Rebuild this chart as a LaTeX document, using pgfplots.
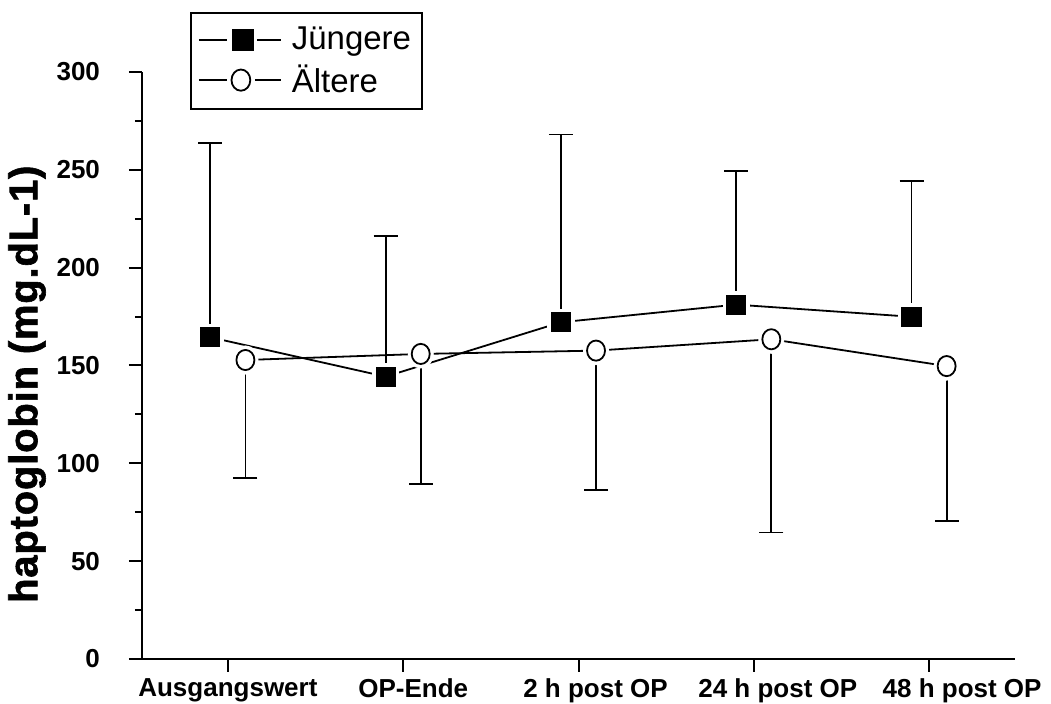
\documentclass[border=0pt]{standalone}
\usepackage{pgfplots}
\usepackage{pgfplotstable}
\pgfplotsset{compat=1.18}
\usepackage{fontspec}
\setmainfont{Liberation Sans}
\pgfplotstableread{
x y e
-0.1 164.4 99.5
0.9 144.3 71.9
1.9 172.1 95.9
2.9 181.1 68.5
3.9 174.9 69.2
}\young
\pgfplotstableread{
x y e
0.1 152.8 60.3
1.1 155.9 66.3
2.1 157.6 71.2
3.1 163.4 98.8
4.1 149.7 79.0
}\old
\begin{document}
\begin{tikzpicture}
\begin{axis}[
  name=ax, at={(0,0)}, anchor=south west,
  scale only axis, width=436.5pt, height=293.5pt,
  xmin=-0.49, xmax=4.49, ymin=0, ymax=300,
  axis x line=bottom, axis y line=left,
  axis line style={-, line width=1pt},
  tick align=outside, major tick length=6.5pt, minor tick length=3.5pt,
  tick style={black, line width=1pt},
  xtick={0,1,2,3,4},
  xticklabels={{Ausgangswert},{\hspace*{10pt}\raisebox{-2pt}{OP-Ende}},{\hspace*{17pt}2 h post OP},{\hspace*{24pt}24 h post OP},{\hspace*{33pt}48 h post OP}},
  ytick={0,50,...,300}, minor ytick={25,75,...,275},
  /pgf/number format/assume math mode=true,
  xticklabel style={font=\fontsize{13}{15}\selectfont\bfseries},
  yticklabel style={font=\fontsize{13}{15}\selectfont\bfseries, xshift=-11pt},
  ylabel={haptoglobin (mg.dL-1)},
  ylabel style={font=\fontsize{20}{24}\selectfont\bfseries\addfontfeature{FakeBold=1.5,LetterSpace=2}, at={(axis description cs:-0.1317,0.468)}, anchor=center},
  legend style={at={(0.055,1.102)}, anchor=north west, draw=black, line width=1pt,
    font=\fontsize{16.5}{19}\selectfont, inner xsep=3.5pt, inner ysep=5pt, row sep=2pt,
    /tikz/every odd column/.append style={column sep=3pt}},
  legend cell align=left,
  clip=false,
]
\addlegendimage{legend image code/.code={
  \draw[black, line width=0.9pt] (3pt,0pt) -- (17pt,0pt);
  \draw[black, line width=0.9pt] (32pt,0pt) -- (44pt,0pt);
  \fill[black] (20pt,-5pt) rectangle (30pt,5pt);
}}
\addlegendentry{Jüngere}
\addlegendimage{legend image code/.code={
  \draw[black, line width=0.9pt] (3pt,0pt) -- (17pt,0pt);
  \draw[black, line width=0.9pt] (31pt,0pt) -- (44pt,0pt);
  \draw[black, line width=0.9pt, fill=white] (24pt,0pt) ellipse [x radius=4.7pt, y radius=5.3pt];
}}
\addlegendentry{Ältere}
% lines
\addplot[black, line width=0.9pt, forget plot] table[x=x,y=y]{\young};
\addplot[black, line width=0.9pt, forget plot] table[x=x,y=y]{\old};
% halos
\addplot[only marks, mark=square*, mark size=6.6pt, mark options={draw=white, fill=white}, forget plot] table[x=x,y=y]{\young};
\addplot[only marks, mark=*, mark size=6.3pt, mark options={draw=white, fill=white, yscale=1.12}, forget plot] table[x=x,y=y]{\old};
% marks with error bars
\addplot[forget plot, only marks, black, line width=0.9pt, mark=square*, mark size=4.6pt, mark options={fill=black},
  error bars/.cd, y dir=plus, y explicit, error mark options={rotate=90, black, line width=0.9pt, mark size=6pt},
  error bar style={black, line width=0.9pt}] table[x=x,y=y,y error=e]{\young};
\addplot[forget plot, only marks, black, line width=0.9pt, mark=*, mark size=4.5pt, mark options={fill=white, yscale=1.12},
  error bars/.cd, y dir=minus, y explicit, error mark options={rotate=90, black, line width=0.9pt, mark size=6pt},
  error bar style={black, line width=0.9pt}] table[x=x,y=y,y error=e]{\old};
\end{axis}
\pgfresetboundingbox
\path[use as bounding box] (-71pt,-22.5pt) rectangle (454.5pt,329.5pt);
\end{tikzpicture}
\end{document}
